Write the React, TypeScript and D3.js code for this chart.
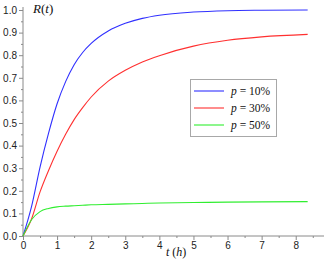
import React, { useEffect, useRef } from "react";
import * as d3 from "d3";

// time points (hours) the curves were read at
const tHours = [0, 0.25, 0.5, 0.75, 1, 1.25, 1.5, 1.75, 2, 2.5, 3, 3.5, 4, 5, 6, 7, 8.35];

const r10 = [0, 0.13, 0.305, 0.455, 0.585, 0.683, 0.758, 0.812, 0.852, 0.907, 0.941, 0.963, 0.977, 0.991, 0.997, 0.999, 1.0];
const r30 = [0, 0.075, 0.195, 0.29, 0.375, 0.45, 0.515, 0.568, 0.615, 0.685, 0.733, 0.77, 0.798, 0.84, 0.866, 0.881, 0.892];
const r50 = [0, 0.072, 0.108, 0.122, 0.129, 0.132, 0.134, 0.136, 0.138, 0.14, 0.142, 0.144, 0.146, 0.148, 0.15, 0.151, 0.152];

const seriesNames = ["10%", "30%", "50%"];
const seriesColors = ["#3030ff", "#ff3030", "#30ee30"];

const yMajor = [0, 0.1, 0.2, 0.3, 0.4, 0.5, 0.6, 0.7, 0.8, 0.9, 1.0];
const yMinor = [0.05, 0.15, 0.25, 0.35, 0.45, 0.55, 0.65, 0.75, 0.85, 0.95];
const xMajor = [0, 1, 2, 3, 4, 5, 6, 7, 8];
const xMinor = [0.5, 1.5, 2.5, 3.5, 4.5, 5.5, 6.5, 7.5, 8.5];

export default function App() {
    const ref = useRef<SVGSVGElement>(null);

    useEffect(() => {
        const svg = d3.select(ref.current);
        svg.selectAll("*").remove();

        const x = d3.scaleLinear().domain([0, 8.8]).range([23, 323]);
        const y = d3.scaleLinear().domain([0, 1]).range([236, 10]);
        const axisColor = "#8a8a8a";
        const sans = '"Liberation Sans", Arial, sans-serif';
        const serif = '"Liberation Serif", "Times New Roman", serif';

        //y axis, major + minor ticks
        const gy = svg.append("g").attr("transform", `translate(${x(0)},0)`);
        gy.call(d3.axisLeft(y).tickValues(yMajor).tickSize(4).tickPadding(2).tickFormat(d3.format(".1f")));
        gy.select(".domain").remove();
        const gyMinor = svg.append("g").attr("transform", `translate(${x(0)},0)`);
        gyMinor.call(d3.axisLeft(y).tickValues(yMinor).tickSize(2).tickFormat(() => ""));
        gyMinor.select(".domain").remove();
        svg.append("line")
            .attr("x1", x(0)).attr("x2", x(0))
            .attr("y1", y(0)).attr("y2", 7)
            .attr("stroke", axisColor);

        //x axis
        const gx = svg.append("g").attr("transform", `translate(0,${y(0)})`);
        gx.call(d3.axisBottom(x).tickValues(xMajor).tickSize(4).tickPadding(2).tickFormat(d3.format("d")));
        gx.select(".domain").remove();
        const gxMinor = svg.append("g").attr("transform", `translate(0,${y(0)})`);
        gxMinor.call(d3.axisBottom(x).tickValues(xMinor).tickSize(2).tickFormat(() => ""));
        gxMinor.select(".domain").remove();
        svg.append("line")
            .attr("x1", x(0)).attr("x2", 324)
            .attr("y1", y(0)).attr("y2", y(0))
            .attr("stroke", axisColor);

        svg.selectAll(".tick line").attr("stroke", axisColor);
        svg.selectAll(".tick text")
            .attr("fill", "#222")
            .style("font-family", sans)
            .style("font-size", "10px");

        //axis titles
        const rt = svg.append("text")
            .attr("x", 33).attr("y", 13)
            .style("font-family", serif)
            .style("font-size", "13px")
            .attr("fill", "#111");
        rt.append("tspan").style("font-style", "italic").text("R");
        rt.append("tspan").text("(");
        rt.append("tspan").style("font-style", "italic").text("t");
        rt.append("tspan").text(")");

        const th = svg.append("text")
            .attr("x", 166).attr("y", 256)
            .style("font-family", serif)
            .style("font-size", "12px")
            .attr("fill", "#111");
        th.append("tspan").style("font-style", "italic").text("t");
        th.append("tspan").text(" (");
        th.append("tspan").style("font-style", "italic").text("h");
        th.append("tspan").text(")");

        //curves
        const allSeries = [r10, r30, r50];
        const line = d3.line<number>()
            .x((d, i) => x(tHours[i]))
            .y(d => y(d))
            .curve(d3.curveMonotoneX);

        svg.selectAll(".curve")
            .data(allSeries)
            .enter()
            .append("path")
            .attr("class", "curve")
            .attr("d", d => line(d))
            .attr("fill", "none")
            .attr("stroke", (d, i) => seriesColors[i])
            .attr("stroke-width", 1.1);

        //legend
        const legend = svg.append("g");
        legend.append("rect")
            .attr("x", 190.5).attr("y", 79.5)
            .attr("width", 86).attr("height", 57)
            .attr("fill", "white")
            .attr("stroke", "#a8a8a8");

        const rowY = d3.scalePoint().domain(seriesNames).range([91, 125]);
        const rows = legend.selectAll(".row")
            .data(seriesNames)
            .enter()
            .append("g");
        rows.append("line")
            .attr("x1", 194).attr("x2", 224)
            .attr("y1", d => rowY(d)!).attr("y2", d => rowY(d)!)
            .attr("stroke", (d, i) => seriesColors[i])
            .attr("stroke-width", 1.1);
        const labels = rows.append("text")
            .attr("x", 231)
            .attr("y", d => rowY(d)! + 4)
            .style("font-family", serif)
            .style("font-size", "11.5px")
            .attr("fill", "#111");
        labels.append("tspan").style("font-style", "italic").text("p");
        labels.append("tspan").text(d => " = " + d);
    }, []);

    return (
        <svg ref={ref} width={327} height={262}
             style={{position: "absolute", left: 0, top: 0, background: "white"}} />
    );
}
